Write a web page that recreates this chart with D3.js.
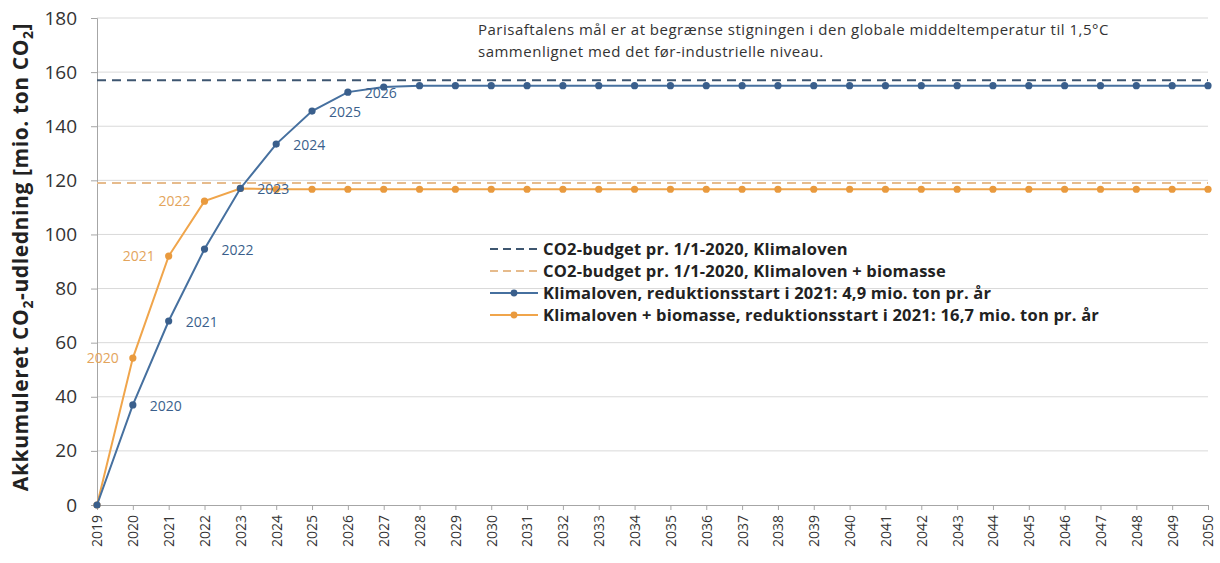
<!DOCTYPE html>
<html>
<head>
<meta charset="utf-8">
<script src="https://cdn.jsdelivr.net/npm/d3@7"></script>
<style>
  body { margin: 0; background: #fff; }
  svg text { font-family: "Open Sans", "Liberation Sans", sans-serif; }
</style>
</head>
<body>
<svg id="chart" width="1220" height="563"></svg>
<script>
// years on the x axis
var years = d3.range(2019, 2051);

// accumulated emissions, Klimaloven (mio. ton CO2)
var klimaloven = [0, 37, 68, 94.6, 117, 133.4, 145.6, 152.6, 154.5,
  155, 155, 155, 155, 155, 155, 155, 155, 155, 155, 155, 155, 155,
  155, 155, 155, 155, 155, 155, 155, 155, 155, 155];

// accumulated emissions, Klimaloven + biomasse
var biomasse = [0, 54.3, 92, 112.3, 117, 116.7, 116.7, 116.7, 116.7,
  116.7, 116.7, 116.7, 116.7, 116.7, 116.7, 116.7, 116.7, 116.7, 116.7,
  116.7, 116.7, 116.7, 116.7, 116.7, 116.7, 116.7, 116.7, 116.7, 116.7,
  116.7, 116.7, 116.7];

// CO2 budgets (dashed horizontal lines)
var budgets = [157, 119];

// labelled years on each series
var blueLabels = [2020, 2021, 2022, 2023, 2024, 2025, 2026];
var orangeLabels = [2020, 2021, 2022];

var yTicks = d3.range(0, 181, 20);

var legendLabels = [
  'CO2-budget pr. 1/1-2020, Klimaloven',
  'CO2-budget pr. 1/1-2020, Klimaloven + biomasse',
  'Klimaloven, reduktionsstart i 2021: 4,9 mio. ton pr. år',
  'Klimaloven + biomasse, reduktionsstart i 2021: 16,7 mio. ton pr. år'
];

var noteLines = [
  'Parisaftalens mål er at begrænse stigningen i den globale middeltemperatur til 1,5°C',
  'sammenlignet med det før-industrielle niveau.'
];

var blue = '#46709f',
    blueDark = '#3a5f8c',
    blueDash = '#3e5670',
    orange = '#f0a54b',
    orangeDash = '#e6bb8c',
    grid = '#d9d9d9',
    textCol = '#333';

var svg = d3.select('#chart'),
    plotL = 97, plotR = 1208, plotT = 18, plotB = 505;

var x = d3.scaleLinear().domain([2019, 2050]).range([plotL, plotR]);
var y = d3.scaleLinear().domain([0, 180]).range([plotB, plotT]);

// gridlines
svg.append('g').selectAll('line').data(yTicks.filter(function (d) { return d > 0; }))
  .enter().append('line')
  .attr('x1', plotL).attr('x2', plotR)
  .attr('y1', function (d) { return y(d); }).attr('y2', function (d) { return y(d); })
  .attr('stroke', grid).attr('stroke-width', 1);

// y axis
var yAxis = svg.append('g')
  .attr('transform', 'translate(' + plotL + ',0)')
  .call(d3.axisLeft(y).tickValues(yTicks).tickSize(6).tickPadding(14));
yAxis.selectAll('path, line').attr('stroke', '#a6a6a6');
yAxis.selectAll('text').attr('font-size', 19).attr('fill', textCol)
  .attr('font-family', '"Open Sans", sans-serif');

// x axis
var xAxis = svg.append('g')
  .attr('transform', 'translate(0,' + plotB + ')')
  .call(d3.axisBottom(x).tickValues(years).tickFormat(d3.format('d')).tickSize(5));
xAxis.selectAll('path, line').attr('stroke', '#a6a6a6');
xAxis.selectAll('text')
  .attr('font-size', 14).attr('fill', textCol)
  .attr('font-family', '"Open Sans", sans-serif')
  .attr('transform', 'rotate(-90)')
  .attr('text-anchor', 'end')
  .attr('x', -10).attr('y', 0).attr('dy', '0.35em');

// budget lines
svg.append('g').selectAll('line').data(budgets).enter().append('line')
  .attr('x1', plotL).attr('x2', plotR)
  .attr('y1', function (d) { return y(d); }).attr('y2', function (d) { return y(d); })
  .attr('stroke', function (d, i) { return i === 0 ? blueDash : orangeDash; })
  .attr('stroke-width', 2)
  .attr('stroke-dasharray', '9,6');

var line = d3.line()
  .x(function (d, i) { return x(years[i]); })
  .y(function (d) { return y(d); });

function series(vals, col, mark) {
  var g = svg.append('g');
  g.append('path').datum(vals)
    .attr('d', line).attr('fill', 'none')
    .attr('stroke', col).attr('stroke-width', 2);
  g.selectAll('circle').data(vals).enter().append('circle')
    .attr('cx', function (d, i) { return x(years[i]); })
    .attr('cy', function (d) { return y(d); })
    .attr('r', 3.6).attr('fill', mark);
}
series(biomasse, orange, '#e99a3e');
series(klimaloven, blue, blueDark);

// data labels
svg.append('g').selectAll('text').data(blueLabels).enter().append('text')
  .attr('x', function (d) { return x(d) + 17; })
  .attr('y', function (d) { return y(klimaloven[years.indexOf(d)]) + 6; })
  .attr('font-size', 14).attr('fill', blueDark)
  .text(function (d) { return d; });

svg.append('g').selectAll('text').data(orangeLabels).enter().append('text')
  .attr('x', function (d) { return x(d) - 14; })
  .attr('y', function (d) { return y(biomasse[years.indexOf(d)]) + 5; })
  .attr('text-anchor', 'end')
  .attr('font-size', 14).attr('fill', '#e3a45c')
  .text(function (d) { return d; });

// note
svg.append('g').selectAll('text').data(noteLines).enter().append('text')
  .attr('x', 478).attr('y', function (d, i) { return 35 + i * 22; })
  .attr('font-size', 15).attr('fill', textCol)
  .attr('letter-spacing', 0.5)
  .text(function (d) { return d; });

// legend
var legend = svg.append('g').attr('transform', 'translate(490,249)');
var rows = legend.selectAll('g').data(legendLabels).enter().append('g')
  .attr('transform', function (d, i) { return 'translate(0,' + i * 22 + ')'; });
rows.append('line')
  .attr('x1', 0).attr('x2', 48).attr('y1', 0).attr('y2', 0)
  .attr('stroke', function (d, i) { return [blueDash, orangeDash, blue, orange][i]; })
  .attr('stroke-width', 2)
  .attr('stroke-dasharray', function (d, i) { return i < 2 ? '8,5' : null; });
rows.filter(function (d, i) { return i >= 2; }).append('circle')
  .attr('cx', 24).attr('cy', 0).attr('r', 3.4)
  .attr('fill', function (d, i) { return i === 0 ? blueDark : '#e99a3e'; });
rows.append('text')
  .attr('x', 53).attr('y', 5.5)
  .attr('font-size', 16.5).attr('font-weight', 'bold').attr('fill', '#222')
  .attr('letter-spacing', 0.2)
  .text(function (d) { return d; });

// y axis title
var title = svg.append('text')
  .attr('transform', 'translate(28,257) rotate(-90)')
  .attr('text-anchor', 'middle')
  .attr('font-size', 21).attr('font-weight', 'bold').attr('fill', '#222')
  .attr('letter-spacing', 0.6);
title.append('tspan').text('Akkumuleret CO');
title.append('tspan').attr('font-size', 14).attr('dy', 5).text('2');
title.append('tspan').attr('dy', -5).text('-udledning  [mio. ton CO');
title.append('tspan').attr('font-size', 14).attr('dy', 5).text('2');
title.append('tspan').attr('dy', -5).text(']');
</script>
</body>
</html>
